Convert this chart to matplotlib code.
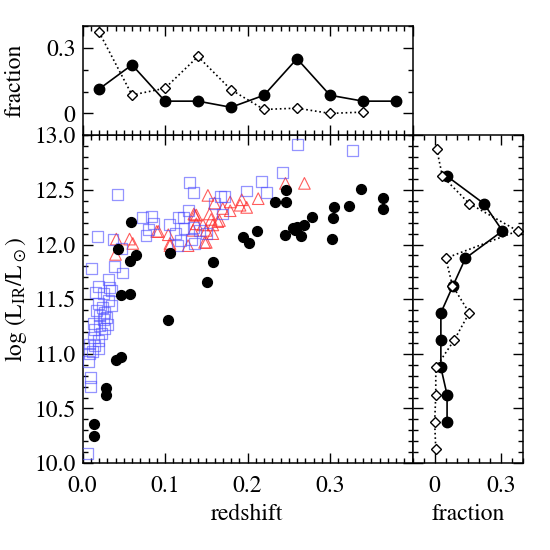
import numpy as np
import matplotlib.pyplot as plt
from matplotlib.ticker import MultipleLocator, FixedLocator, NullFormatter

plt.rcParams['font.family'] = 'STIXGeneral'
plt.rcParams['mathtext.fontset'] = 'stix'
plt.rcParams['font.size'] = 17

# black filled circles (redshift, log LIR)
z_blk = [0.043, 0.059, 0.065, 0.058, 0.106, 0.158, 0.151, 0.195, 0.202, 0.211,
         0.233, 0.247, 0.247, 0.246, 0.255, 0.260, 0.265, 0.269, 0.278, 0.302,
         0.304, 0.305, 0.323, 0.337, 0.364, 0.364, 0.047, 0.058, 0.104, 0.041,
         0.047, 0.028, 0.028, 0.014, 0.014, 0.257]
l_blk = [11.96, 12.21, 11.90, 11.85, 11.92, 11.84, 11.66, 12.07, 12.01, 12.12,
         12.39, 12.39, 12.50, 12.09, 12.15, 12.16, 12.08, 12.18, 12.25, 12.05,
         12.24, 12.34, 12.35, 12.51, 12.43, 12.33, 11.54, 11.55, 11.31, 10.94,
         10.97, 10.69, 10.62, 10.36, 10.25, 12.13]

# blue open squares
z_blu = [0.261, 0.327, 0.242, 0.217, 0.223, 0.199, 0.130, 0.134, 0.042, 0.018,
         0.011, 0.039, 0.049, 0.037, 0.047, 0.073, 0.084, 0.080, 0.086, 0.077,
         0.106, 0.116, 0.122, 0.129, 0.113, 0.115, 0.132, 0.134, 0.142, 0.150,
         0.160, 0.167, 0.172, 0.170, 0.123, 0.119, 0.136,
         0.031, 0.033, 0.019, 0.016, 0.025, 0.035, 0.031, 0.019, 0.035, 0.017,
         0.027, 0.021, 0.025, 0.013, 0.021, 0.027, 0.015, 0.023, 0.013, 0.019,
         0.009, 0.015, 0.019, 0.009, 0.007, 0.010, 0.010, 0.006, 0.012, 0.029,
         0.024, 0.030]
l_blu = [12.92, 12.86, 12.66, 12.58, 12.48, 12.49, 12.57, 12.48, 12.46, 12.07,
         11.78, 11.80, 11.74, 12.05, 11.96, 12.25, 12.26, 12.14, 12.19, 12.08,
         12.18, 12.25, 12.25, 12.31, 12.10, 11.99, 12.05, 12.16, 12.13, 12.10,
         12.38, 12.44, 12.44, 12.28, 12.15, 12.04, 12.01,
         11.68, 11.61, 11.62, 11.56, 11.55, 11.58, 11.49, 11.46, 11.44, 11.40,
         11.38, 11.35, 11.31, 11.28, 11.26, 11.23, 11.22, 11.19, 11.15, 11.12,
         11.09, 11.08, 11.05, 11.00, 10.93, 10.78, 10.70, 10.09, 11.02, 11.33,
         11.42, 11.27]

# red open triangles
z_red = [0.152, 0.246, 0.269, 0.213, 0.193, 0.199, 0.191, 0.179, 0.160, 0.170,
         0.179, 0.154, 0.138, 0.156, 0.166, 0.146, 0.158, 0.164, 0.150, 0.158,
         0.148, 0.134, 0.041, 0.057, 0.061, 0.092, 0.104, 0.106, 0.128, 0.136,
         0.138, 0.040, 0.090, 0.106, 0.135, 0.150]
l_red = [12.45, 12.56, 12.56, 12.42, 12.41, 12.34, 12.36, 12.39, 12.38, 12.33,
         12.31, 12.28, 12.27, 12.23, 12.22, 12.18, 12.18, 12.21, 12.13, 12.10,
         12.02, 12.13, 12.05, 12.05, 12.01, 12.12, 12.09, 11.99, 11.99, 12.27,
         12.19, 11.91, 12.12, 12.01, 12.28, 12.02]

# redshift histograms (top panel)
z_bins = [0.02, 0.06, 0.10, 0.14, 0.18, 0.22, 0.26, 0.30, 0.34, 0.38]
fz_filled = [0.111, 0.222, 0.056, 0.056, 0.028, 0.083, 0.250, 0.083, 0.056, 0.056]
fz_open = [0.372, 0.084, 0.115, 0.260, 0.108, 0.018, 0.024, 0.000, 0.006]

# luminosity histograms (right panel)
l_bins = [12.875, 12.625, 12.375, 12.125, 11.875, 11.625, 11.375, 11.125,
          10.875, 10.625, 10.375, 10.125]
fl_filled = [0.056, 0.222, 0.306, 0.139, 0.083, 0.028, 0.028, 0.028, 0.056, 0.056]
fl_open = [0.009, 0.035, 0.156, 0.375, 0.050, 0.080, 0.156, 0.088, 0.005, 0.005,
           0.000, 0.005]

fig = plt.figure(figsize=(5.5, 5.5), dpi=100)
ax = fig.add_axes([0.150, 0.158, 0.600, 0.596])
axt = fig.add_axes([0.150, 0.754, 0.600, 0.199])
axr = fig.add_axes([0.750, 0.158, 0.2015, 0.596])

for a in (ax, axt, axr):
    a.tick_params(which='both', direction='in', top=True, right=True, width=1.0)
    a.tick_params(which='major', length=7)
    a.tick_params(which='minor', length=3.5)
    for s in a.spines.values():
        s.set_linewidth(1.1)

# main scatter
ax.scatter(z_red, l_red, marker='^', s=70, facecolors='none',
           edgecolors=(1, 0.15, 0.15, 0.75), linewidths=0.8, zorder=2)
ax.scatter(z_blu, l_blu, marker='s', s=62, facecolors='none',
           edgecolors=(0.3, 0.3, 1.0, 0.6), linewidths=0.9, zorder=3)
ax.scatter(z_blk, l_blk, marker='o', s=50, color='black', zorder=4)
ax.set_xlim(0, 0.4)
ax.set_ylim(10.0, 13.0)
ax.xaxis.set_major_locator(FixedLocator([0.0, 0.1, 0.2, 0.3]))
ax.xaxis.set_minor_locator(MultipleLocator(0.01))
ax.set_xticklabels(['0.0', '0.1', '0.2', '0.3'])
ax.yaxis.set_major_locator(FixedLocator(np.arange(10.0, 13.01, 0.5)))
ax.yaxis.set_minor_locator(MultipleLocator(0.1))
ax.set_yticklabels(['%.1f' % v for v in np.arange(10.0, 13.01, 0.5)])
ax.set_xlabel('redshift', labelpad=5)
ax.set_ylabel(r'log (L$_{\rm IR}$/L$_\odot$)', labelpad=4)
ax.tick_params(axis='x', which='major', pad=9)
ax.tick_params(axis='y', which='major', pad=5)

# top panel
axt.plot(z_bins, fz_filled, '-', color='black', lw=1.2, marker='o', ms=7.5)
axt.plot(z_bins[:len(fz_open)], fz_open, ':', color='black', lw=1.2,
         marker='D', ms=5, mfc='white', mec='black', mew=1.0)
axt.set_xlim(0, 0.4)
axt.set_ylim(-0.1, 0.4)
axt.xaxis.set_major_locator(MultipleLocator(0.1))
axt.xaxis.set_minor_locator(MultipleLocator(0.01))
axt.xaxis.set_major_formatter(NullFormatter())
axt.yaxis.set_major_locator(FixedLocator([0, 0.3]))
axt.yaxis.set_minor_locator(MultipleLocator(0.1))
axt.set_yticklabels(['0', '0.3'])
axt.tick_params(axis='y', which='major', pad=5)
axt.set_ylabel('fraction', labelpad=15)

# right panel
axr.plot(fl_filled, l_bins[1:1 + len(fl_filled)], '-', color='black', lw=1.2,
         marker='o', ms=7.5)
axr.plot(fl_open, l_bins, ':', color='black', lw=1.2,
         marker='D', ms=5, mfc='white', mec='black', mew=1.0)
axr.set_xlim(-0.1, 0.4)
axr.set_ylim(10.0, 13.0)
axr.xaxis.set_major_locator(FixedLocator([0, 0.3]))
axr.xaxis.set_minor_locator(MultipleLocator(0.05))
axr.set_xticklabels(['0', '0.3'])
axr.yaxis.set_major_locator(MultipleLocator(0.5))
axr.yaxis.set_minor_locator(MultipleLocator(0.1))
axr.yaxis.set_major_formatter(NullFormatter())
axr.set_xlabel('fraction', labelpad=5)
axr.tick_params(axis='x', which='major', pad=9)

fig.savefig('out.png', dpi=100)
